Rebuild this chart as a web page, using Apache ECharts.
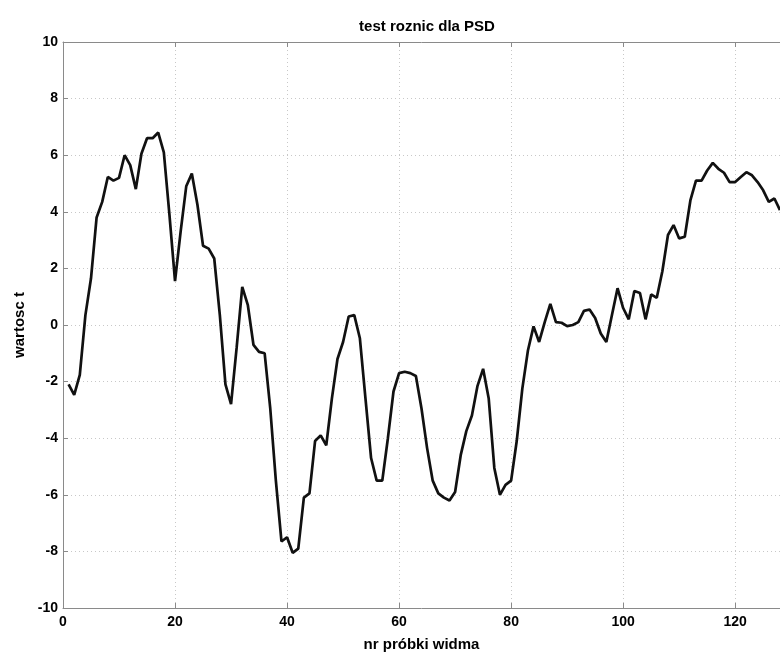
<!DOCTYPE html>
<html>
<head>
<meta charset="utf-8">
<script src="https://cdn.jsdelivr.net/npm/echarts@6/dist/echarts.min.js"></script>
<style>
  html, body { margin: 0; padding: 0; background: #fff; }
  #chart { width: 780px; height: 657px; }
</style>
</head>
<body>
<div id="chart"></div>
<script>
// wartosc t for samples 1..128
const firstSample = 1;
const tValues = [
  -2.1, -2.47, -1.76, 0.35, 1.65, 3.8, 4.35, 5.23, 5.1, 5.2,
  6.0, 5.65, 4.8, 6.05, 6.6, 6.6, 6.8, 6.1, 3.9, 1.55,
  3.3, 4.9, 5.35, 4.25, 2.8, 2.7, 2.35, 0.35, -2.1, -2.8,
  -0.8, 1.35, 0.7, -0.7, -0.95, -1.0, -2.95, -5.5, -7.65, -7.5,
  -8.05, -7.9, -6.1, -5.95, -4.1, -3.9, -4.25, -2.6, -1.2, -0.6,
  0.3, 0.35, -0.47, -2.6, -4.7, -5.5, -5.5, -4.0, -2.35, -1.7,
  -1.65, -1.7, -1.8, -2.95, -4.35, -5.5, -5.95, -6.1, -6.2, -5.9,
  -4.6, -3.75, -3.2, -2.15, -1.55, -2.6, -5.05, -6.0, -5.65, -5.5,
  -4.1, -2.25, -0.9, -0.05, -0.6, 0.1, 0.75, 0.1, 0.08, -0.04,
  0.0, 0.1, 0.5, 0.55, 0.25, -0.3, -0.6, 0.35, 1.3, 0.6,
  0.2, 1.2, 1.13, 0.2, 1.08, 0.96, 1.9, 3.18, 3.53, 3.06,
  3.12, 4.4, 5.1, 5.1, 5.46, 5.73, 5.52, 5.38, 5.05, 5.05,
  5.23, 5.4, 5.29, 5.05, 4.76, 4.35, 4.47, 4.06
];
const xTicks = [0, 20, 40, 60, 80, 100, 120];
const yTicks = [-10, -8, -6, -4, -2, 0, 2, 4, 6, 8, 10];

const chart = echarts.init(document.getElementById('chart'));
const font = 'Liberation Sans, Arial, sans-serif';
const axisGrey = '#8a8a8a';

const option = {
  animation: false,
  backgroundColor: '#fff',
  title: {
    text: 'test roznic dla PSD',
    left: 422,
    textAlign: 'center',
    top: 14,
    textStyle: { fontFamily: font, fontWeight: 'bold', fontSize: 15, color: '#000' }
  },
  grid: {
    left: 63,
    right: -3,
    top: 42,
    bottom: 40
  },
  xAxis: [
    {
      type: 'value',
      min: 0,
      max: 128,
      interval: 20,
      name: 'nr próbki widma',
      nameLocation: 'middle',
      nameGap: 29,
      nameTextStyle: { fontFamily: font, fontWeight: 'bold', fontSize: 15, color: '#000' },
      axisLine: { show: true, onZero: false, lineStyle: { color: axisGrey } },
      axisTick: { show: true, inside: true, length: 5, lineStyle: { color: axisGrey } },
      axisLabel: {
        fontFamily: font, fontWeight: 'bold', fontSize: 14, color: '#000', margin: 7,
        showMaxLabel: false,
        formatter: v => xTicks.includes(v) ? String(v) : ''
      },
      splitLine: { show: true, lineStyle: { color: '#c8c8c8', type: [1, 3], width: 1 } }
    },
    {
      type: 'value',
      position: 'top',
      min: 0,
      max: 128,
      interval: 20,
      axisLine: { show: true, onZero: false, lineStyle: { color: axisGrey } },
      axisTick: { show: true, inside: true, length: 5, lineStyle: { color: axisGrey } },
      axisLabel: { show: false },
      splitLine: { show: false }
    }
  ],
  yAxis: {
    type: 'value',
    min: -10,
    max: 10,
    interval: 2,
    name: 'wartosc t',
    nameLocation: 'middle',
    nameGap: 35,
    nameTextStyle: { fontFamily: font, fontWeight: 'bold', fontSize: 15, color: '#000' },
    axisLine: { show: true, onZero: false, lineStyle: { color: axisGrey } },
    axisTick: { show: true, inside: true, length: 5, lineStyle: { color: axisGrey } },
    axisLabel: {
      fontFamily: font, fontWeight: 'bold', fontSize: 14, color: '#000', margin: 5,
      formatter: v => yTicks.includes(v) ? String(v) : ''
    },
    splitLine: { show: true, lineStyle: { color: '#c8c8c8', type: [1, 3], width: 1 } }
  },
  series: [
    {
      type: 'line',
      xAxisIndex: 0,
      data: tValues.map((v, i) => [firstSample + i, v]),
      showSymbol: false,
      symbol: 'none',
      lineStyle: { color: '#111', width: 2.7 },
      clip: false
    }
  ]
};
chart.setOption(option);
</script>
</body>
</html>
